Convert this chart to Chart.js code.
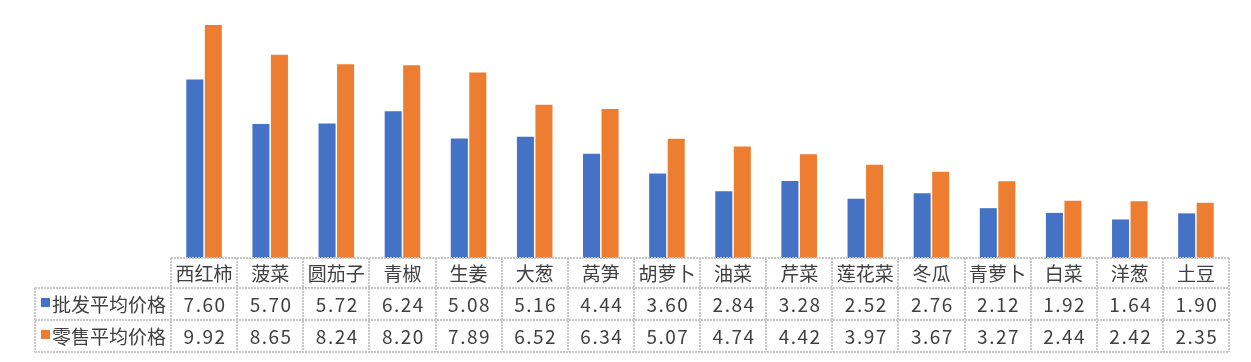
<!DOCTYPE html>
<html>
<head>
<meta charset="utf-8">
<script src="https://cdn.jsdelivr.net/npm/chart.js"></script>
<style>
  body { margin: 0; background: #fff; }
  #wrap { width: 1251px; height: 362px; }
</style>
</head>
<body>
<div id="wrap"><canvas id="myChart"></canvas></div>
<script>
/*-------------------------
 data
--------------------------*/
var categories = ["西红柿", "菠菜", "圆茄子", "青椒", "生姜", "大葱", "莴笋", "胡萝卜", "油菜", "芹菜", "莲花菜", "冬瓜", "青萝卜", "白菜", "洋葱", "土豆"];
var wholesale = [7.60, 5.70, 5.72, 6.24, 5.08, 5.16, 4.44, 3.60, 2.84, 3.28, 2.52, 2.76, 2.12, 1.92, 1.64, 1.90];
var retail = [9.92, 8.65, 8.24, 8.20, 7.89, 6.52, 6.34, 5.07, 4.74, 4.42, 3.97, 3.67, 3.27, 2.44, 2.42, 2.35];
var seriesNames = ["批发平均价格", "零售平均价格"];
var seriesColors = ["#4472C4", "#ED7D31"];

var FONT = '19px "Noto Sans CJK SC", "Noto Sans", sans-serif';
var TEXT = "#404040";
var LINE = "#c8c8c8";

/*-------------------------
 excel風のデータテーブル
--------------------------*/
var dataTable = {
  id: "dataTable",
  afterDraw: function (chart) {
    var ctx = chart.ctx;
    var x = chart.scales.x;
    var area = chart.chartArea;
    var headL = 35;
    var y0 = area.bottom, y1 = y0 + 30, y2 = y1 + 32, y3 = y2 + 32;

    ctx.save();
    ctx.strokeStyle = LINE;
    ctx.lineWidth = 2;
    ctx.setLineDash([2, 1]);
    ctx.beginPath();
    ctx.moveTo(area.left, y0); ctx.lineTo(area.right, y0);
    [y1, y2, y3].forEach(function (yy) {
      ctx.moveTo(headL, yy); ctx.lineTo(area.right, yy);
    });
    ctx.moveTo(headL, y1); ctx.lineTo(headL, y3);
    for (var i = 0; i <= categories.length; i++) {
      var bx = Math.round(area.left + (area.right - area.left) * i / categories.length);
      ctx.moveTo(bx, y0); ctx.lineTo(bx, y3);
    }
    ctx.stroke();
    ctx.setLineDash([]);

    ctx.font = FONT;
    ctx.fillStyle = TEXT;
    ctx.textBaseline = "middle";
    ctx.textAlign = "center";
    categories.forEach(function (c, i) {
      var cx = x.getPixelForValue(i);
      ctx.letterSpacing = "0px";
      ctx.fillText(c, cx, (y0 + y1) / 2 + 1);
      ctx.letterSpacing = "1.5px";
      ctx.fillText(wholesale[i].toFixed(2), cx + 1, (y1 + y2) / 2 + 1);
      ctx.fillText(retail[i].toFixed(2), cx + 1, (y2 + y3) / 2 + 1);
    });
    ctx.letterSpacing = "0px";

    ctx.textAlign = "left";
    [y1, y2].forEach(function (yy, k) {
      var my = yy + 16;
      ctx.fillStyle = seriesColors[k];
      ctx.fillRect(headL + 6, my - 6, 9, 9);
      ctx.fillStyle = TEXT;
      ctx.fillText(seriesNames[k], headL + 17, my + 1);
    });
    ctx.restore();
  }
};

var ctx = document.getElementById("myChart").getContext("2d");
var myChart = new Chart(ctx, {
  type: "bar",
  data: {
    labels: categories,
    datasets: [{
      label: seriesNames[0],
      data: wholesale,
      backgroundColor: seriesColors[0],
      categoryPercentage: 0.56,
      barPercentage: 0.92
    }, {
      label: seriesNames[1],
      data: retail,
      backgroundColor: seriesColors[1],
      categoryPercentage: 0.56,
      barPercentage: 0.92
    }]
  },
  options: {
    responsive: true,
    maintainAspectRatio: false,
    animation: false,
    layout: {
      padding: { left: 171, right: 22, top: 23, bottom: 104 }
    },
    scales: {
      x: { display: false },
      y: { display: false, min: 0, max: 10 }
    },
    plugins: {
      legend: { display: false },
      tooltip: { enabled: false }
    }
  },
  plugins: [dataTable]
});
</script>
</body>
</html>
